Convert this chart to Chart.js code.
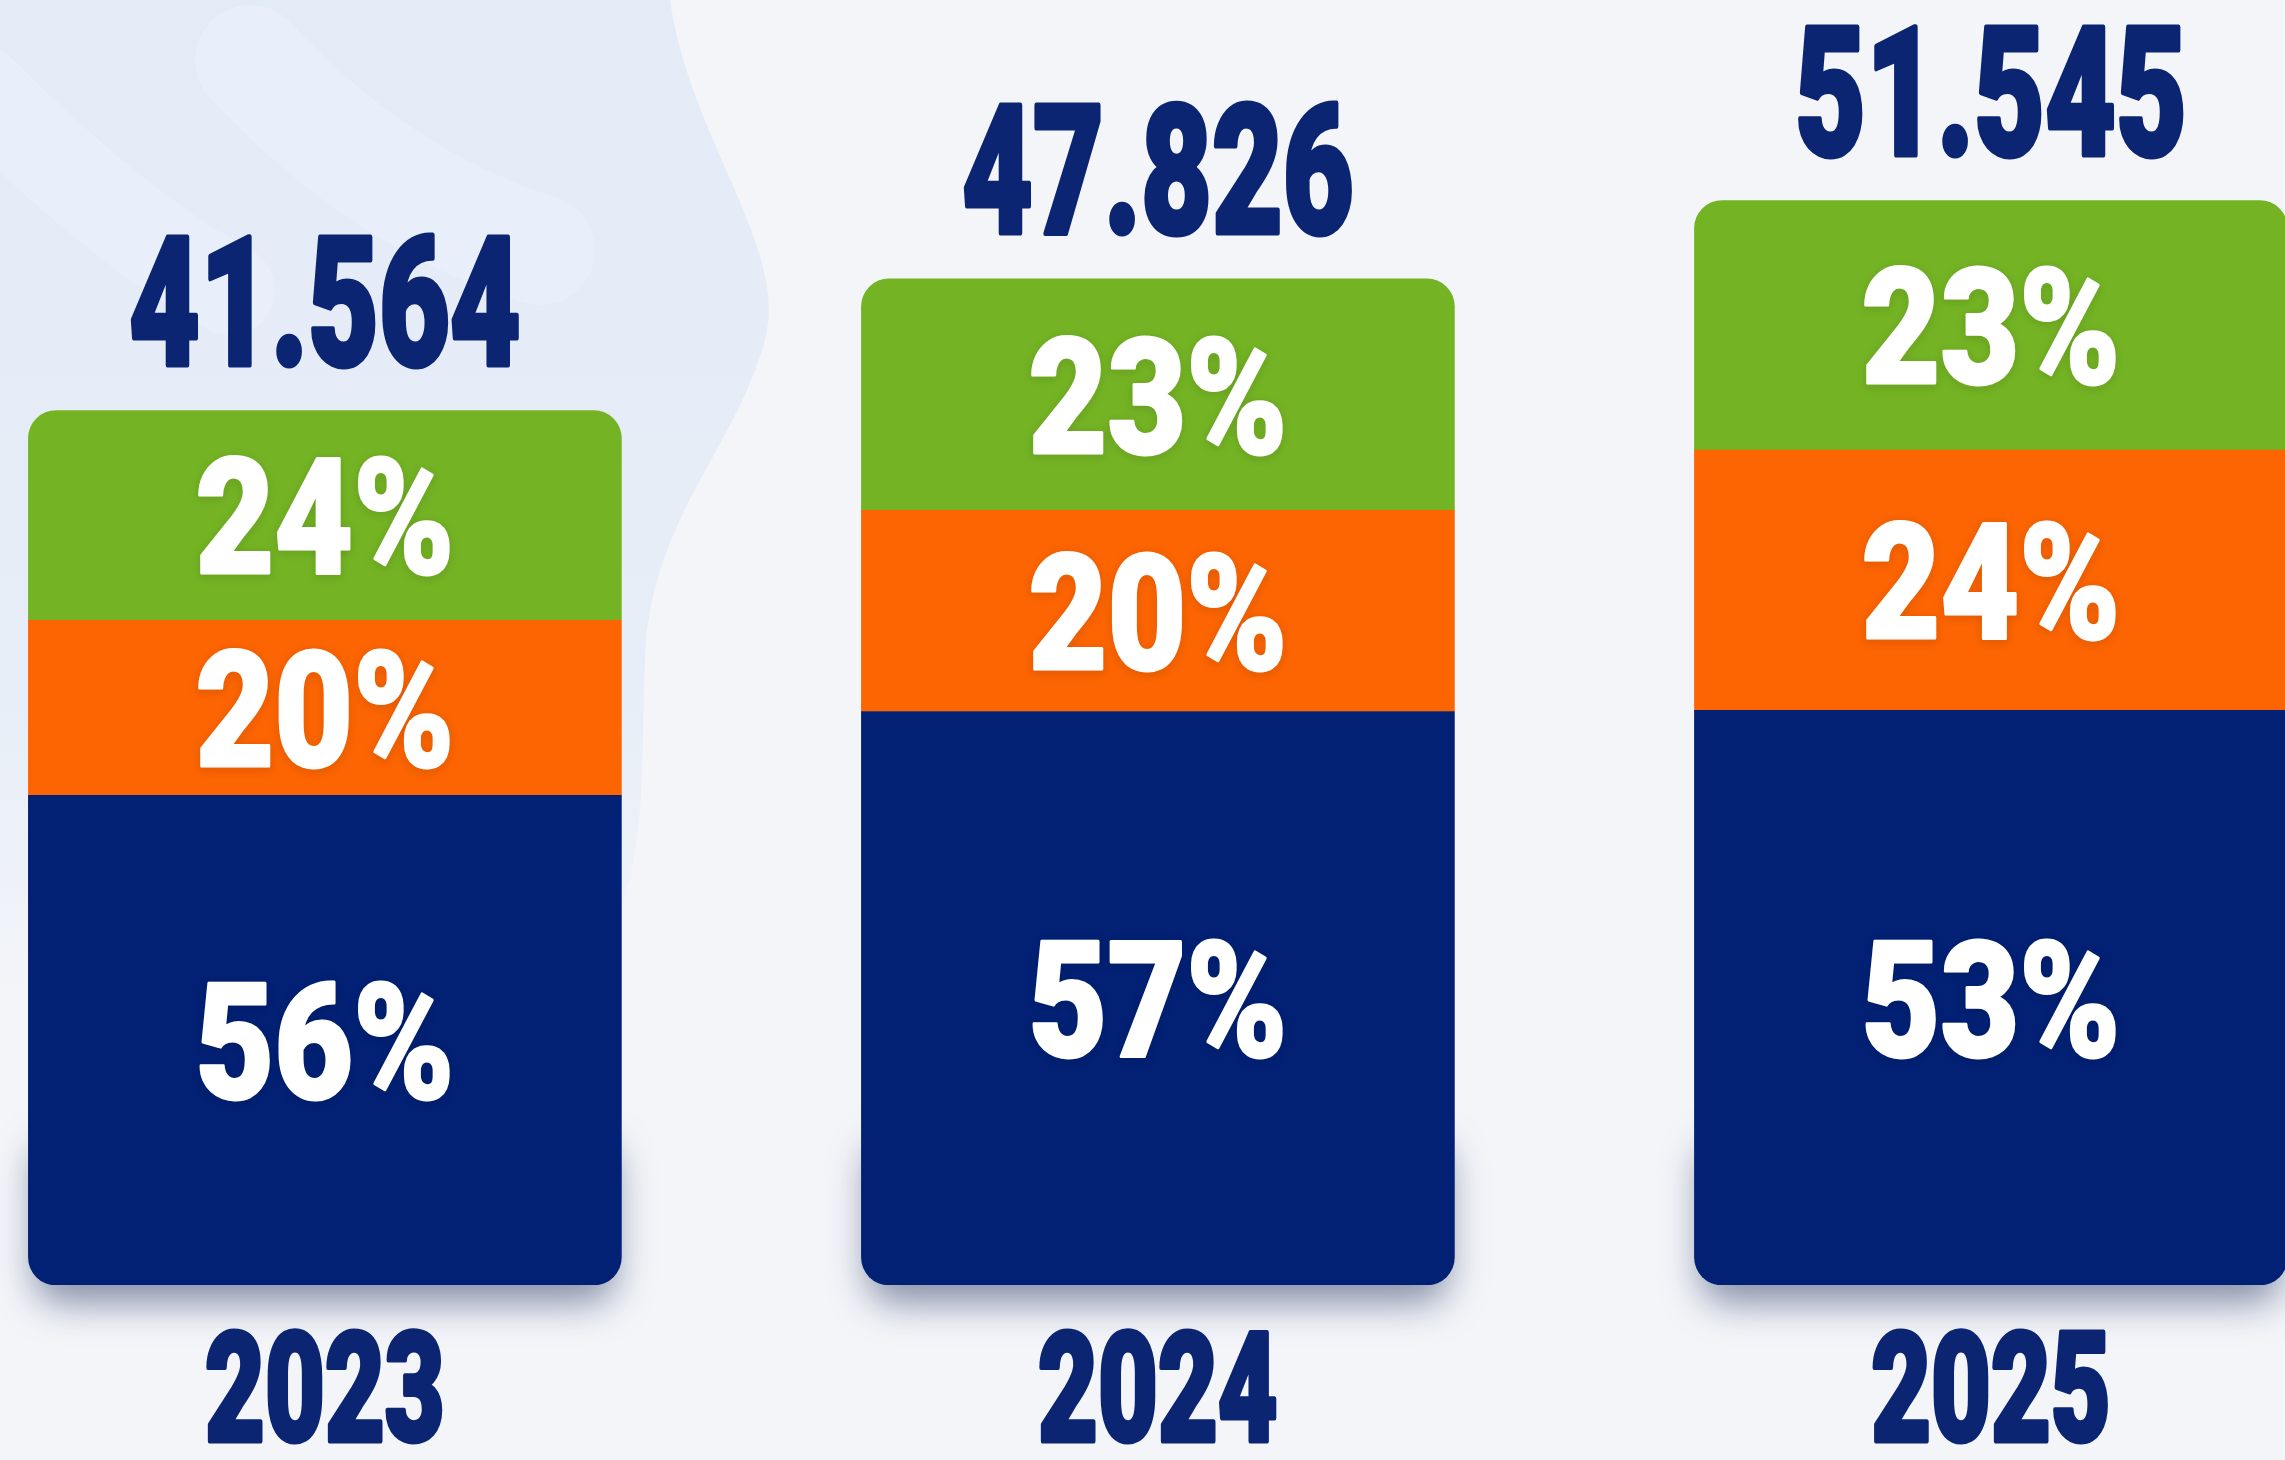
<!DOCTYPE html>
<html>
<head>
<meta charset="utf-8">
<title>2023 - 2025</title>
<script src="https://cdn.jsdelivr.net/npm/chart.js@4.4.1/dist/chart.umd.min.js"></script>
<style>
  html, body { margin: 0; padding: 0; background: #f3f5f9; overflow: hidden; }
  #wrap { position: relative; width: 2285px; height: 1460px; }
</style>
</head>
<body>
<div id="wrap"><canvas id="chart"></canvas></div>
<script>
// --- Data ---
const years = [2023, 2024, 2025];
const totals = [41564, 47826, 51545];
const shareNavy = [56, 57, 53];
const shareOrange = [20, 20, 24];
const shareGreen = [24, 23, 23];

// --- Styles ---
const NAVY = '#022175';
const ORANGE = '#fd6502';
const GREEN = '#74b424';
const TEXT_NAVY = '#0b2573';
const FONT = 'Roboto, "Liberation Sans", sans-serif';
const RADIUS = 28;

const segment = (share) => years.map((yr, i) => ({ x: yr, y: totals[i] * share[i] / 100 }));

// condensed heavy text: squeezed horizontally, thickened with a same-colour stroke
function drawText(ctx, text, x, baseline, size, squeeze, opts) {
    ctx.save();
    ctx.translate(x, baseline);
    ctx.scale(squeeze, 1);
    ctx.font = `900 ${size}px ${FONT}`;
    ctx.textAlign = 'center';
    ctx.textBaseline = 'alphabetic';
    ctx.lineJoin = 'round';
    if (opts.shadow) {
        ctx.shadowColor = opts.shadow;
        ctx.shadowBlur = 8;
        ctx.shadowOffsetY = 2;
    }
    ctx.fillStyle = opts.fill;
    ctx.strokeStyle = opts.fill;
    ctx.lineWidth = opts.weight;
    ctx.strokeText(text, 0, 0);
    ctx.shadowColor = 'transparent';
    ctx.fillText(text, 0, 0);
    ctx.restore();
}

// --- Background with faint swirl shapes ---
const backdrop = {
    id: 'backdrop',
    beforeDraw(chart) {
        const { ctx, width, height } = chart;
        ctx.save();
        ctx.fillStyle = '#f3f5f9';
        ctx.fillRect(0, 0, width, height);

        const fade = ctx.createLinearGradient(0, 0, 0, 1000);
        fade.addColorStop(0, 'rgba(214, 227, 245, 0.55)');
        fade.addColorStop(0.7, 'rgba(214, 227, 245, 0.4)');
        fade.addColorStop(1, 'rgba(214, 227, 245, 0)');
        ctx.fillStyle = fade;
        ctx.beginPath();
        ctx.moveTo(0, 0);
        ctx.lineTo(670, 0);
        ctx.bezierCurveTo(690, 140, 790, 250, 765, 340);
        ctx.bezierCurveTo(735, 450, 650, 520, 645, 660);
        ctx.bezierCurveTo(640, 780, 650, 860, 600, 960);
        ctx.lineTo(0, 1000);
        ctx.closePath();
        ctx.fill();

        ctx.lineCap = 'round';
        ctx.strokeStyle = 'rgba(232, 239, 249, 0.9)';
        ctx.lineWidth = 110;
        ctx.beginPath();
        ctx.moveTo(250, 60);
        ctx.quadraticCurveTo(380, 200, 540, 250);
        ctx.stroke();
        ctx.lineWidth = 90;
        ctx.beginPath();
        ctx.moveTo(-20, 90);
        ctx.quadraticCurveTo(120, 230, 230, 290);
        ctx.stroke();
        ctx.restore();
    }
};

// --- Soft shadow under each bar ---
const barShadow = {
    id: 'barShadow',
    beforeDatasetsDraw(chart) {
        const ctx = chart.ctx;
        const meta = chart.getDatasetMeta(0);
        ctx.save();
        ctx.shadowColor = 'rgba(30, 45, 90, 0.5)';
        ctx.shadowBlur = 36;
        ctx.shadowOffsetY = 18;
        ctx.fillStyle = NAVY;
        meta.data.forEach(bar => {
            const left = bar.x - bar.width / 2;
            ctx.beginPath();
            ctx.roundRect(left + 6, bar.base - 160, bar.width - 12, 160, RADIUS);
            ctx.fill();
        });
        ctx.restore();
    }
};

// --- Labels: shares inside, totals above, years below ---
const labels = {
    id: 'labels',
    afterDatasetsDraw(chart) {
        const ctx = chart.ctx;
        const shares = [shareNavy, shareOrange, shareGreen];
        years.forEach((yr, i) => {
            shares.forEach((arr, d) => {
                const bar = chart.getDatasetMeta(d).data[i];
                const mid = (bar.y + bar.base) / 2;
                drawText(ctx, arr[i] + '%', bar.x, mid + 58, 162, 0.84,
                    { fill: '#ffffff', weight: 3, shadow: 'rgba(0, 0, 0, 0.25)' });
            });
            const top = chart.getDatasetMeta(2).data[i];
            drawText(ctx, totals[i].toLocaleString('de-DE'), top.x, top.y - 46, 180, 0.68,
                { fill: TEXT_NAVY, weight: 5 });
            drawText(ctx, String(yr), top.x, chart.chartArea.bottom + 156, 152, 0.68,
                { fill: TEXT_NAVY, weight: 5 });
        });
    }
};

new Chart(document.getElementById('chart'), {
    type: 'bar',
    data: {
        datasets: [
            {
                label: '56/57/53%',
                data: segment(shareNavy),
                backgroundColor: NAVY,
                borderRadius: { topLeft: 0, topRight: 0, bottomLeft: RADIUS, bottomRight: RADIUS },
            },
            {
                label: '20/20/24%',
                data: segment(shareOrange),
                backgroundColor: ORANGE,
                borderRadius: 0,
            },
            {
                label: '24/23/23%',
                data: segment(shareGreen),
                backgroundColor: GREEN,
                borderRadius: { topLeft: RADIUS, topRight: RADIUS, bottomLeft: 0, bottomRight: 0 },
            }
        ]
    },
    options: {
        responsive: true,
        maintainAspectRatio: false,
        animation: false,
        devicePixelRatio: 1,
        barThickness: 593,
        borderSkipped: false,
        borderWidth: 0,
        layout: { padding: { top: 191, bottom: 175, left: 0, right: 0 } },
        scales: {
            x: { type: 'linear', min: 2022.61, max: 2025.353, offset: false, stacked: true, display: false },
            y: { stacked: true, min: 0, max: 52000, display: false }
        },
        plugins: {
            legend: { display: false },
            tooltip: { enabled: false }
        }
    },
    plugins: [backdrop, barShadow, labels]
});
</script>
</body>
</html>
